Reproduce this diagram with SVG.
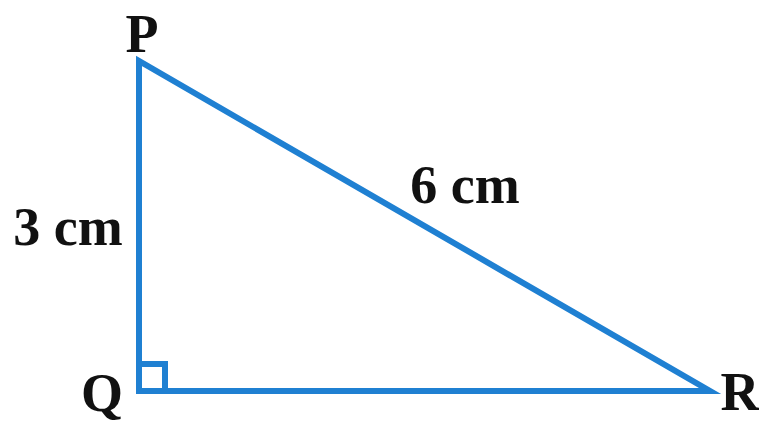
<svg xmlns="http://www.w3.org/2000/svg" width="759" height="423" viewBox="0 0 759 423">
<style>
.lbl{font-family:"Liberation Serif","Times New Roman",serif;font-weight:bold;font-size:54px;fill:#111}
.edge{stroke:#1f80d2;stroke-width:6;fill:none;stroke-linejoin:miter}
</style>
<rect width="759" height="423" fill="#fff"/>
<g id="connectors">
<polygon class="edge" points="139,61 139,391 710,391"/>
<polyline class="edge" points="139,364 165,364 165,391" stroke-width="5"/>
</g>
<g id="P"><text class="lbl" x="142" y="52" text-anchor="middle">P</text></g>
<g id="Q"><text class="lbl" x="102" y="411" text-anchor="middle">Q</text></g>
<g id="R"><text class="lbl" x="740" y="410" text-anchor="middle">R</text></g>
<g id="label-PQ"><text class="lbl" x="68" y="245" text-anchor="middle">3 cm</text></g>
<g id="label-PR"><text class="lbl" x="465" y="203" text-anchor="middle">6 cm</text></g>
</svg>
